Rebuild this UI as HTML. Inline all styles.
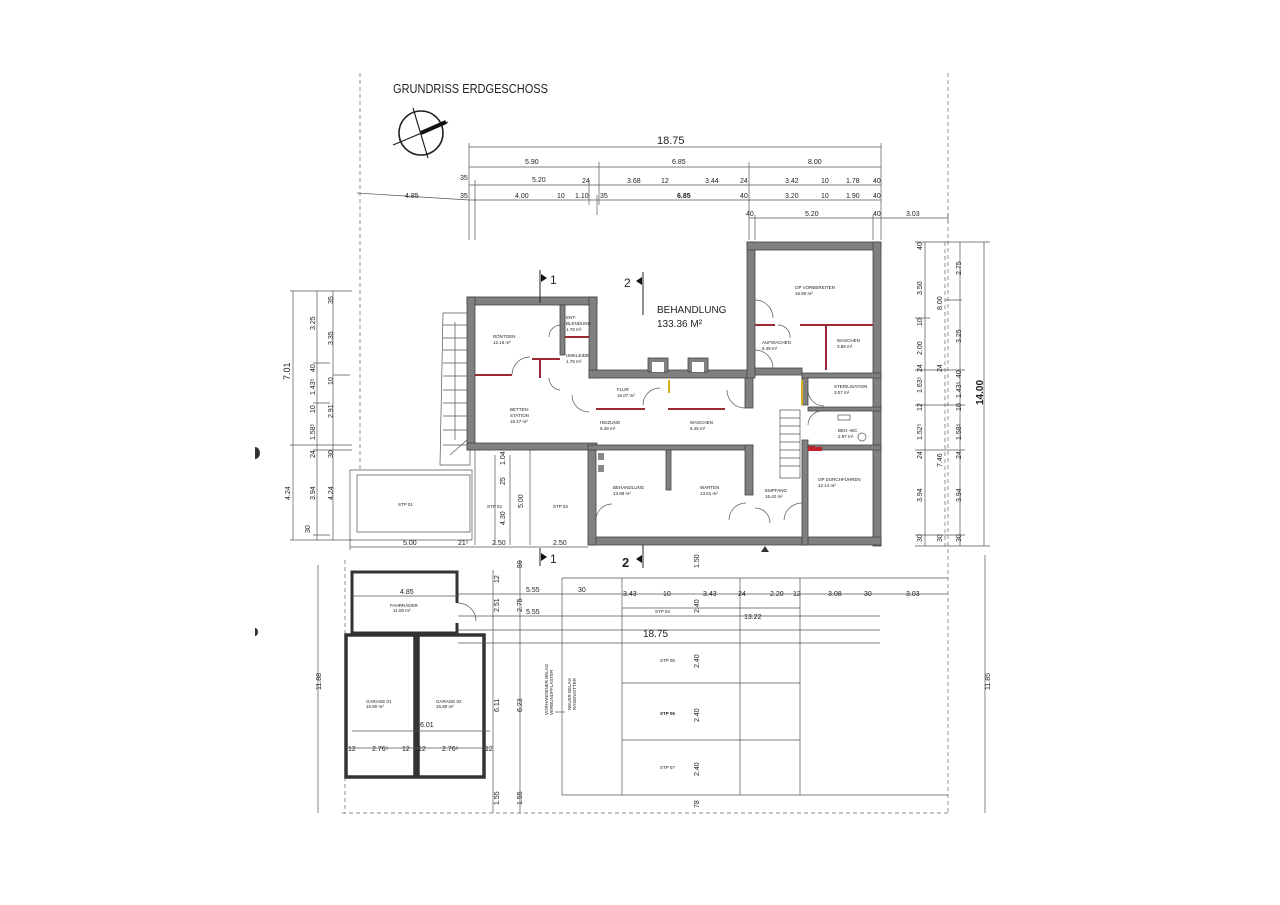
<!DOCTYPE html>
<html><head><meta charset="utf-8"><style>
html,body{margin:0;padding:0;background:#fff}
svg{display:block}
text{font-family:"Liberation Sans",sans-serif;fill:#222}
.d{font-size:7px}
.s{font-size:4.5px;fill:#444}
.ln{stroke:#555;stroke-width:0.7;fill:none}
.dl{stroke:#666;stroke-width:0.7;fill:none;stroke-dasharray:4 3}
.w{fill:#808080;stroke:#444;stroke-width:0.8}
.r{stroke:#9a2a33;stroke-width:2}
.k{stroke:#333;stroke-width:3.5;fill:none}
</style></head><body>
<svg width="1280" height="905" viewBox="0 0 1280 905" xmlns="http://www.w3.org/2000/svg">
<path class="dl" d="M360 73 V470 M948 73 V815 M342 813 H948 M345 560 V813"/>
<path class="ln" d="M357 193 L469 200"/>
<text x="393" y="93" style="font-size:13px" textLength="155" lengthAdjust="spacingAndGlyphs">GRUNDRISS ERDGESCHOSS</text>
<circle cx="421" cy="133" r="22" fill="none" stroke="#222" stroke-width="1.6"/>
<line x1="393" y1="145" x2="448" y2="122" stroke="#222" stroke-width="1.2"/>
<line x1="413" y1="108" x2="428" y2="158" stroke="#222" stroke-width="1.2"/>
<line x1="421" y1="133" x2="446" y2="122" stroke="#111" stroke-width="4"/>
<g class="ln">
<path d="M469 147 H881 M469 167 H881 M469 185 H881 M469 200 H881 M749 218 H948"/>
<path d="M469 143 V240 M475 180 V240 M599 162 V205 M749 162 V240 M881 143 V240 M755 215 V240 M873 215 V240 M948 214 V222 M589 180 V205 M597 195 V215"/>
</g>
<text x="657" y="144" style="font-size:11px">18.75</text>
<g class="d">
<text x="525" y="164">5.90</text><text x="672" y="164">6.85</text><text x="808" y="164">8.00</text>
<text x="460" y="180">35</text><text x="532" y="182">5.20</text><text x="582" y="183">24</text><text x="627" y="183">3.68</text><text x="661" y="183">12</text><text x="705" y="183">3.44</text><text x="740" y="183">24</text><text x="785" y="183">3.42</text><text x="821" y="183">10</text><text x="846" y="183">1.78</text><text x="873" y="183">40</text>
<text x="405" y="198">4.85</text><text x="460" y="198">35</text><text x="515" y="198">4.00</text><text x="557" y="198">10</text><text x="575" y="198">1.10</text><text x="600" y="198">35</text><text x="677" y="198" style="font-weight:bold">6.85</text><text x="740" y="198">40</text><text x="785" y="198">3.20</text><text x="821" y="198">10</text><text x="846" y="198">1.90</text><text x="873" y="198">40</text>
<text x="746" y="216">40</text><text x="805" y="216">5.20</text><text x="873" y="216">40</text><text x="906" y="216">3.03</text>
</g>
<g class="ln"><path d="M293 291 V540 M317 291 V540 M333 291 V540 M290 291 H352 M290 445 H352 M290 540 H352 M313 363 H330 M313 403 H330 M313 450 H352 M313 535 H330 M333 375 H350"/></g>
<g class="d">
<text transform="translate(290,380) rotate(-90)" style="font-size:9px">7.01</text>
<text transform="translate(315,330) rotate(-90)">3.25</text><text transform="translate(333,304) rotate(-90)">35</text><text transform="translate(333,345) rotate(-90)">3.35</text>
<text transform="translate(315,372) rotate(-90)">40</text><text transform="translate(315,395) rotate(-90)">1.43⁵</text><text transform="translate(333,385) rotate(-90)">10</text>
<text transform="translate(315,413) rotate(-90)">10</text><text transform="translate(315,440) rotate(-90)">1.58⁵</text><text transform="translate(333,418) rotate(-90)">2.91</text>
<text transform="translate(315,458) rotate(-90)">24</text><text transform="translate(333,458) rotate(-90)">30</text>
<text transform="translate(290,500) rotate(-90)">4.24</text><text transform="translate(315,500) rotate(-90)">3.94</text><text transform="translate(333,500) rotate(-90)">4.24</text><text transform="translate(310,533) rotate(-90)">30</text>
</g>
<path d="M255 447 a5 6 0 0 1 0 12z" fill="#333"/>
<path d="M255 628 a3 4 0 0 1 0 8z" fill="#333"/>
<g class="ln"><path d="M925 242 V546 M960 242 V546 M984 242 V546 M915 242 H990 M915 546 H990 M915 318 H930 M915 370 H965 M915 405 H965 M915 450 H965 M915 535 H965 M945 300 H962"/></g>
<path class="dl" d="M945 242 V546"/>
<g class="d">
<text transform="translate(922,250) rotate(-90)">40</text><text transform="translate(922,295) rotate(-90)">3.50</text><text transform="translate(922,326) rotate(-90)">10</text><text transform="translate(922,355) rotate(-90)">2.00</text><text transform="translate(922,372) rotate(-90)">24</text><text transform="translate(922,393) rotate(-90)">1.63⁵</text><text transform="translate(922,411) rotate(-90)">12</text><text transform="translate(922,440) rotate(-90)">1.52⁵</text><text transform="translate(922,459) rotate(-90)">24</text><text transform="translate(922,502) rotate(-90)">3.94</text><text transform="translate(922,542) rotate(-90)">30</text>
<text transform="translate(942,310) rotate(-90)">8.00</text><text transform="translate(942,372) rotate(-90)">24</text><text transform="translate(942,467) rotate(-90)">7.46</text><text transform="translate(942,542) rotate(-90)">30</text>
<text transform="translate(961,275) rotate(-90)">2.75</text><text transform="translate(961,343) rotate(-90)">3.25</text><text transform="translate(961,378) rotate(-90)">40</text><text transform="translate(961,398) rotate(-90)">1.43⁵</text><text transform="translate(961,411) rotate(-90)">10</text><text transform="translate(961,440) rotate(-90)">1.58⁵</text><text transform="translate(961,459) rotate(-90)">24</text><text transform="translate(961,502) rotate(-90)">3.94</text><text transform="translate(961,542) rotate(-90)">30</text>
<text transform="translate(983,405) rotate(-90)" style="font-size:10px;font-weight:bold">14.00</text>
</g>
<g class="ln"><path d="M443 313 H470 V465 H440 Z M443 325 H467 M443 338 H467 M443 350 H467 M443 363 H467 M443 376 H467 M443 390 H467 M443 403 H467 M443 416 H467 M443 430 H467 M443 445 H467 M450 455 L467 440 M455 322 V440"/></g>
<g class="w">
<rect x="467" y="297" width="130" height="8"/>
<rect x="467" y="297" width="8" height="153"/>
<rect x="589" y="297" width="8" height="81"/>
<rect x="589" y="370" width="164" height="8"/>
<rect x="747" y="242" width="8" height="136"/>
<rect x="747" y="242" width="134" height="8"/>
<rect x="873" y="242" width="8" height="304"/>
<rect x="588" y="537" width="293" height="8"/>
<rect x="588" y="445" width="8" height="100"/>
<rect x="467" y="443" width="130" height="7"/>
<rect x="588" y="445" width="165" height="5"/>
<rect x="745" y="445" width="8" height="50"/>
<rect x="745" y="378" width="8" height="30"/>
<rect x="666" y="450" width="5" height="40"/>
<rect x="802" y="375" width="6" height="30"/>
<rect x="802" y="440" width="6" height="105"/>
<rect x="802" y="373" width="79" height="5"/>
<rect x="808" y="407" width="73" height="4"/>
<rect x="808" y="445" width="73" height="5"/>
<rect x="755" y="368" width="47" height="7"/>
<rect x="560" y="305" width="5" height="50"/>
<rect x="648" y="358" width="20" height="14"/>
<rect x="688" y="358" width="20" height="14"/>
</g>
<rect x="652" y="362" width="12" height="10" fill="#fff"/>
<rect x="692" y="362" width="12" height="10" fill="#fff"/>
<g class="r">
<path d="M475 375 H512 M532 359 H560 M540 359 V378 M565 337 H589 M755 325 H775 M800 325 H873 M826 325 V370 M596 409 H645 M668 409 H725 M808 447 H815"/>
</g>
<path d="M669 380 V393 M802 380 V405" stroke="#d8b020" stroke-width="2"/>
<rect x="808" y="447" width="14" height="4" fill="#c0202a"/>
<rect x="598" y="453" width="6" height="7" fill="#888"/><rect x="598" y="465" width="6" height="7" fill="#888"/>
<g class="ln">
<path d="M512 375 A18 18 0 0 1 530 357 M549 337 A12 12 0 0 1 560 325 M549 378 A12 12 0 0 0 560 390 M572 395 A17 17 0 0 0 589 412 M643 405 A17 17 0 0 1 660 388 M727 390 A18 18 0 0 0 745 408 M596 520 A16 16 0 0 1 612 504 M729 520 A17 17 0 0 1 746 503 M755 300 A18 18 0 0 1 773 318 M778 325 A12 12 0 0 1 790 338 M755 350 A18 18 0 0 1 773 368 M808 390 A16 16 0 0 0 824 406 M808 425 A14 14 0 0 1 822 411 M755 508 A15 15 0 0 1 770 523 M784 520 A18 18 0 0 1 802 503"/>
<path d="M780 410 H800 V478 H780 Z M780 418 H800 M780 426 H800 M780 434 H800 M780 442 H800 M780 450 H800 M780 458 H800 M780 466 H800"/>
<path d="M838 415 H850 V420 H838 Z"/>
<circle cx="862" cy="437" r="4"/>
</g>
<path d="M765 552 l-4 0 l4 -6 l4 6z" fill="#333"/>
<g class="s">
<text x="493" y="338">RÖNTGEN</text><text x="493" y="344">12.16 m²</text>
<text x="566" y="319">ENT-</text><text x="566" y="325">BLENDUNG</text><text x="566" y="331">1.78 m²</text>
<text x="566" y="357">UMKLEIDE</text><text x="566" y="363">1.79 m²</text>
<text x="510" y="411">BETTEN-</text><text x="510" y="417">STATION</text><text x="510" y="423">16.27 m²</text>
<text x="617" y="391">FLUR</text><text x="617" y="397">16.07 m²</text>
<text x="600" y="424">HEIZUNG</text><text x="600" y="430">5.48 m²</text>
<text x="690" y="424">WASCHEN</text><text x="690" y="430">5.45 m²</text>
<text x="613" y="489">BEHANDLUNG</text><text x="613" y="495">13.88 m²</text>
<text x="700" y="489">WARTEN</text><text x="700" y="495">13.51 m²</text>
<text x="765" y="492">EMPFANG</text><text x="765" y="498">16.42 m²</text>
<text x="795" y="289">OP VORBEREITEN</text><text x="795" y="295">16.80 m²</text>
<text x="762" y="344">AUFWACHEN</text><text x="762" y="350">6.49 m²</text>
<text x="837" y="342">WASCHEN</text><text x="837" y="348">3.88 m²</text>
<text x="834" y="388">STERILISATION</text><text x="834" y="394">3.07 m²</text>
<text x="838" y="432">BEH.-WC</text><text x="838" y="438">2.97 m²</text>
<text x="818" y="481">OP DURCHFÜHREN</text><text x="818" y="487">12.14 m²</text>
</g>
<text x="657" y="313" style="font-size:10px">BEHANDLUNG</text>
<text x="657" y="327" style="font-size:10px">133.36 M²</text>
<path d="M540 270 V303 M643 272 V315 M540 548 V566 M643 545 V568" stroke="#222" stroke-width="1"/>
<path d="M541 274 l6 4 l-6 4z M642 277 l-6 4 l6 4z M541 553 l6 4 l-6 4z M642 555 l-6 4 l6 4z" fill="#111"/>
<text x="550" y="284" style="font-size:12px">1</text><text x="624" y="287" style="font-size:12px">2</text>
<text x="550" y="563" style="font-size:12px">1</text><text x="622" y="567" style="font-size:13px;font-weight:bold">2</text>
<g class="ln">
<path d="M350 470 H472 V540 H350 Z M357 475 H470 V532 H357 Z M472 450 H588 M475 450 V545 M530 450 V545 M350 547 H588 M350 540 V550"/>
<path d="M495 455 V545 M510 455 V545"/>
</g>
<g class="s"><text x="398" y="506">STP 01</text><text x="487" y="508">STP 02</text><text x="553" y="508">STP 03</text></g>
<g class="d"><text x="403" y="545">5.00</text><text x="458" y="545">21⁵</text><text x="492" y="545">2.50</text><text x="553" y="545">2.50</text>
<text transform="translate(505,465) rotate(-90)">1.04</text><text transform="translate(505,485) rotate(-90)">25</text><text transform="translate(505,525) rotate(-90)">4.30</text><text transform="translate(523,508) rotate(-90)">5.00</text>
</g>
<rect x="352" y="572" width="105" height="61" fill="none" stroke="#333" stroke-width="3"/>
<rect x="454" y="603" width="5" height="20" fill="#fff"/>
<path class="ln" d="M458 603 A18 18 0 0 1 476 621"/>
<path class="k" d="M346 635 H415 V777 H346 Z M418 635 H484 V777 H418 Z"/>
<g class="s"><text x="390" y="607">FAHRRÄDER</text><text x="393" y="612">11.09 m²</text>
<text x="366" y="703">GARAGE 01</text><text x="366" y="708">16.80 m²</text>
<text x="436" y="703">GARAGE 02</text><text x="436" y="708">16.80 m²</text></g>
<g class="ln"><path d="M352 731 H490 M346 748 H490 M353 596 H459"/></g>
<g class="d"><text x="400" y="594">4.85</text><text x="420" y="727">6.01</text>
<text x="348" y="751">12</text><text x="372" y="751">2.76⁵</text><text x="402" y="751">12</text><text x="418" y="751">12</text><text x="442" y="751">2.76⁵</text><text x="485" y="751">12</text></g>
<g class="ln">
<path d="M458 594 H948 M458 616 H880 M458 630 H880 M458 643 H880 M493 570 V813 M520 560 V813 M318 565 V813 M985 555 V813"/>
<path d="M562 578 H948 M562 578 V795 M622 578 V795 M740 578 V795 M800 578 V795 M622 683 H800 M622 740 H800 M562 795 H948 M622 608 H800"/>
</g>
<g class="d"><text x="526" y="592">5.55</text><text x="578" y="592">30</text><text x="623" y="596">3.43</text><text x="663" y="596">10</text><text x="703" y="596">3.43</text><text x="738" y="596">24</text><text x="770" y="596">2.20</text><text x="793" y="596">12</text><text x="828" y="596">3.08</text><text x="864" y="596">30</text><text x="906" y="596">3.03</text>
<text x="526" y="614">5.55</text><text x="744" y="619">13.22</text>
<text transform="translate(321,690) rotate(-90)">11.88</text><text transform="translate(990,690) rotate(-90)">11.85</text>
<text transform="translate(499,712) rotate(-90)">6.11</text><text transform="translate(522,712) rotate(-90)">6.23</text>
<text transform="translate(499,805) rotate(-90)">1.55</text><text transform="translate(522,805) rotate(-90)">1.55</text>
<text transform="translate(499,612) rotate(-90)">2.51</text><text transform="translate(522,612) rotate(-90)">2.75</text><text transform="translate(499,583) rotate(-90)">12</text><text transform="translate(522,568) rotate(-90)">59</text>
<text transform="translate(699,568) rotate(-90)">1.50</text>
<text transform="translate(699,613) rotate(-90)">2.40</text><text transform="translate(699,668) rotate(-90)">2.40</text><text transform="translate(699,722) rotate(-90)">2.40</text><text transform="translate(699,776) rotate(-90)">2.40</text><text transform="translate(699,808) rotate(-90)">78</text>
</g>
<text x="643" y="637" style="font-size:10px">18.75</text>
<g class="s"><text x="655" y="613">STP 04</text><text x="660" y="662">STP 05</text><text x="660" y="715" style="font-weight:bold">STP 06</text><text x="660" y="769">STP 07</text>
<text transform="translate(548,715) rotate(-90)">VORHANDENER BELAG</text><text transform="translate(553,715) rotate(-90)">VERBUNDPFLASTER</text>
<text transform="translate(571,710) rotate(-90)">NEUER BELAG</text><text transform="translate(576,710) rotate(-90)">RASENGITTER</text></g>
<path class="ln" d="M555 712 H565"/>
</svg>
</body></html>
